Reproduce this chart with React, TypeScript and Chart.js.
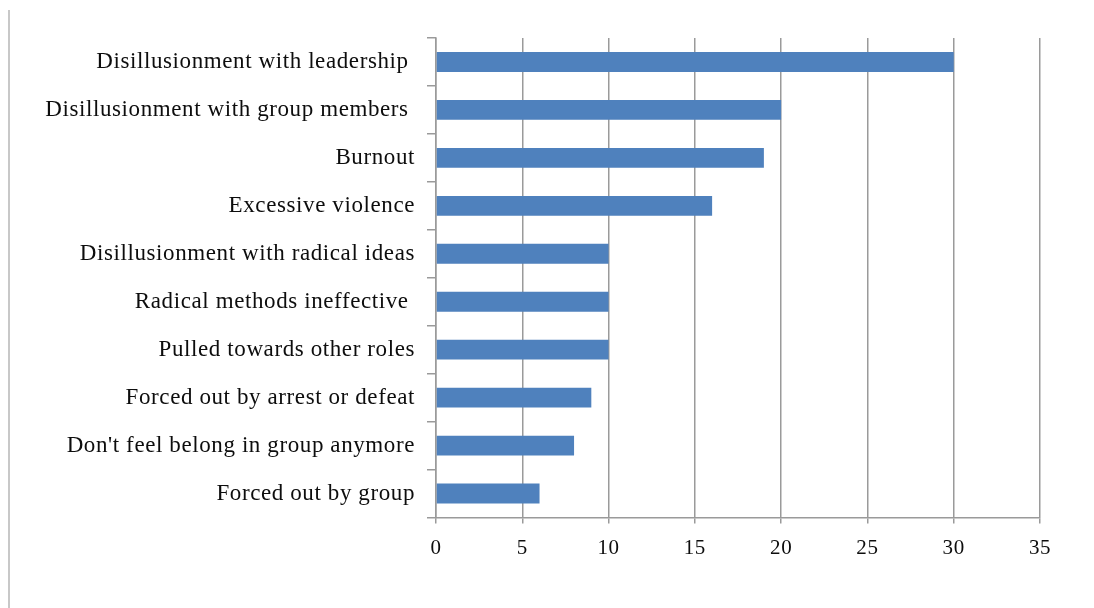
import React, { useEffect, useRef } from "react";
import { Chart, registerables } from "chart.js";

Chart.register(...registerables);

const categories = [
  "Disillusionment with leadership ",
  "Disillusionment with group members ",
  "Burnout",
  "Excessive violence",
  "Disillusionment with radical ideas",
  "Radical methods ineffective ",
  "Pulled towards other roles",
  "Forced out by arrest or defeat",
  "Don't feel belong in group anymore",
  "Forced out by group",
];
const values = [30, 20, 19, 16, 10, 10, 10, 9, 8, 6];
const xMin = 0;
const xMax = 35;
const xStep = 5;

const spacingPlugin = {
  id: "letterSpacing",
  beforeLayout(chart: any) {
    chart.ctx.letterSpacing = "0.6px";
  },
  beforeDraw(chart: any) {
    chart.ctx.letterSpacing = "0.6px";
  },
};

export default function App() {
  const ref = useRef<HTMLCanvasElement | null>(null);
  useEffect(() => {
    if (!ref.current) return;
    const gridColor = "#9a9a9a";
    const family = "'Liberation Serif', 'Times New Roman', serif";
    const chart = new Chart(ref.current, {
      type: "bar",
      data: {
        labels: categories,
        datasets: [
          {
            data: values,
            backgroundColor: "#4f81bd",
            borderWidth: 0,
            categoryPercentage: 1,
            barPercentage: 0.415,
          },
        ],
      },
      plugins: [spacingPlugin],
      options: {
        indexAxis: "y",
        animation: false,
        responsive: false,
        maintainAspectRatio: false,
        layout: { padding: { left: 0, right: 54, top: 38, bottom: 0 } },
        plugins: { legend: { display: false }, tooltip: { enabled: false } },
        scales: {
          x: {
            min: xMin,
            max: xMax,
            ticks: {
              stepSize: xStep,
              color: "#0d0d0d",
              padding: 12,
              font: { family, size: 21 },
            },
            grid: { color: gridColor, lineWidth: 1.5, tickLength: 6 },
            border: { color: gridColor, width: 1.5 },
            afterFit: (s: any) => {
              s.height = 90.5;
            },
          },
          y: {
            ticks: {
              color: "#0d0d0d",
              padding: 12,
              font: { family, size: 23 },
            },
            grid: {
              offset: true,
              drawOnChartArea: false,
              color: gridColor,
              lineWidth: 1.5,
              tickLength: 9,
            },
            border: { color: gridColor, width: 1.5 },
            afterFit: (s: any) => {
              s.width = 436;
            },
          },
        },
      },
    });
    return () => chart.destroy();
  }, []);
  return (
    <div style={{ position: "fixed", left: 0, top: 0, width: 1094, height: 608, background: "#fff" }}>
      <div
        style={{
          position: "absolute",
          left: 8,
          top: 10,
          width: 2,
          height: 598,
          background: "#c8c8c8",
        }}
      />
      <canvas ref={ref} width={1094} height={608} style={{ position: "absolute", left: 0, top: 0 }} />
    </div>
  );
}
